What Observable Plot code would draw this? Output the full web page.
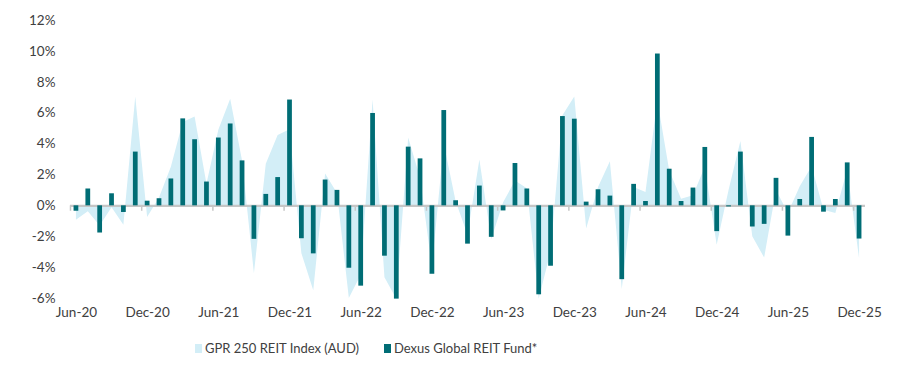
<!DOCTYPE html>
<html>
<head>
<meta charset="utf-8">
<script src="https://cdn.jsdelivr.net/npm/d3@7"></script>
<script src="https://cdn.jsdelivr.net/npm/@observablehq/plot@0.6"></script>
<style>
  html, body { margin: 0; padding: 0; background: #fff; }
  body { width: 922px; font-family: Lato, "Noto Sans", sans-serif; color: #404040; }
  #chart svg { display: block; }
  .legend { display: flex; align-items: center; font-size: 13px; color: #404040; padding-left: 195px; margin-top: 10px; }
  .legend .item { display: flex; align-items: center; margin-right: 25px; }
  .legend .sw { width: 7px; height: 9px; margin-right: 3px; }
</style>
</head>
<body>
<div id="chart"></div>
<div class="legend" id="legend"></div>
<script>
const months = [
  "Jun-20","Jul-20","Aug-20","Sep-20","Oct-20","Nov-20","Dec-20",
  "Jan-21","Feb-21","Mar-21","Apr-21","May-21","Jun-21","Jul-21","Aug-21","Sep-21","Oct-21","Nov-21","Dec-21",
  "Jan-22","Feb-22","Mar-22","Apr-22","May-22","Jun-22","Jul-22","Aug-22","Sep-22","Oct-22","Nov-22","Dec-22",
  "Jan-23","Feb-23","Mar-23","Apr-23","May-23","Jun-23","Jul-23","Aug-23","Sep-23","Oct-23","Nov-23","Dec-23",
  "Jan-24","Feb-24","Mar-24","Apr-24","May-24","Jun-24","Jul-24","Aug-24","Sep-24","Oct-24","Nov-24","Dec-24",
  "Jan-25","Feb-25","Mar-25","Apr-25","May-25","Jun-25","Jul-25","Aug-25","Sep-25","Oct-25","Nov-25","Dec-25"
];

const dexusFund = [
  -0.35, 1.09, -1.76, 0.78, -0.43, 3.48, 0.30,
  0.46, 1.74, 5.63, 4.28, 1.54, 4.39, 5.30, 2.91, -2.17, 0.74, 1.83, 6.85,
  -2.13, -3.11, 1.67, 1.00, -4.04, -5.20, 5.98, -3.26, -6.04, 3.80, 3.04, -4.43,
  6.17, 0.33, -2.48, 1.28, -2.04, -0.33, 2.74, 1.09, -5.76, -3.91, 5.78, 5.61,
  0.24, 1.04, 0.63, -4.78, 1.39, 0.28, 9.83, 2.37, 0.28, 1.15, 3.78, -1.67,
  -0.07, 3.48, -1.37, -1.20, 1.78, -1.96, 0.41, 4.43, -0.41, 0.41, 2.78, -2.15
];

const gprIndex = [
  -0.93, -0.39, -1.30, -0.12, -1.26, 7.05, -0.75,
  0.50, 2.50, 5.40, 5.75, 1.40, 4.90, 6.90, 2.90, -4.40, 2.70, 4.55, 4.92,
  -3.10, -5.50, 2.06, 0.80, -6.00, -4.50, 6.85, -4.65, -6.05, 4.40, 1.80, -4.00,
  4.00, 0.26, -1.90, 2.97, -2.20, 0.20, 1.60, 1.10, -6.05, -3.00, 5.84, 7.05,
  -1.50, 1.19, 2.85, -5.41, 1.19, 0.87, 6.80, 2.25, 0.43, 0.65, 2.50, -2.55,
  1.00, 4.16, -2.00, -3.38, 1.00, -0.50, 1.23, 2.53, -0.28, -0.50, 2.30, -3.42
];

const xTickLabels = ["Jun-20","Dec-20","Jun-21","Dec-21","Jun-22","Dec-22","Jun-23","Dec-23","Jun-24","Dec-24","Jun-25","Dec-25"];
const yTicks = [-6, -4, -2, 0, 2, 4, 6, 8, 10, 12];

const seriesNames = ["GPR 250 REIT Index (AUD)", "Dexus Global REIT Fund*"];
const seriesColors = ["#d3eef7", "#006d75"];

const rows = months.map((m, i) => ({month: m, fund: dexusFund[i], index: gprIndex[i]}));

const width = 922, height = 330;
const marginLeft = 70, marginRight = 57;
const step = (width - marginLeft - marginRight) / months.length;

const chart = Plot.plot({
  width, height,
  marginLeft, marginRight, marginTop: 20, marginBottom: 32,
  style: {fontFamily: "Lato, 'Noto Sans', sans-serif", fontSize: "13.5px", color: "#404040", background: "#fff"},
  x: {type: "band", domain: months, paddingInner: 0.6, paddingOuter: 0.3},
  y: {domain: [-6, 12]},
  marks: [
    Plot.areaY(rows, {x: "month", y: "index", fill: seriesColors[0], curve: "linear"}),
    Plot.ruleY([0], {stroke: "#c6c6c6", strokeWidth: 2.2}),
    Plot.ruleX(xTickLabels, {x: d => d, y1: 0, y2: -0.35, stroke: "#c6c6c6", strokeWidth: 1.5, dx: -step / 2}),
    Plot.barY(rows, {x: "month", y: "fund", fill: seriesColors[1]}),
    Plot.axisY({ticks: yTicks, tickFormat: d => d + "%", tickSize: 0, tickPadding: 15, label: null, fill: "#404040"}),
    Plot.axisX({ticks: xTickLabels, tickSize: 0, tickPadding: 9, label: null, fill: "#404040"})
  ]
});
document.getElementById("chart").appendChild(chart);

const legend = document.getElementById("legend");
seriesNames.forEach((name, i) => {
  const item = document.createElement("div");
  item.className = "item";
  const sw = document.createElement("span");
  sw.className = "sw";
  sw.style.background = seriesColors[i];
  const label = document.createElement("span");
  label.textContent = name;
  item.appendChild(sw);
  item.appendChild(label);
  legend.appendChild(item);
});
</script>
</body>
</html>
